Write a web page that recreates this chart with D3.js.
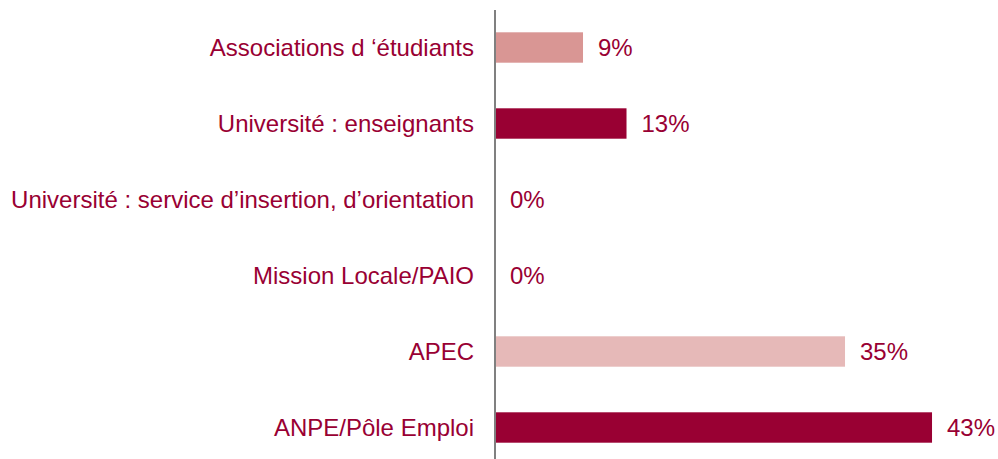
<!DOCTYPE html>
<html>
<head>
<meta charset="utf-8">
<script src="https://d3js.org/d3.v7.min.js"></script>
<style>
  body { margin: 0; background: #fff; }
  svg { display: block; }
</style>
</head>
<body>
<svg id="chart"></svg>
<script>
// Data
const categories = [
  "Associations d \u2018étudiants",
  "Université : enseignants",
  "Université : service d\u2019insertion, d\u2019orientation",
  "Mission Locale/PAIO",
  "APEC",
  "ANPE/Pôle Emploi"
];
const values = [8.7, 13, 0, 0, 34.6, 43.2];
const barColors = ["#D99694", "#990033", "#D99694", "#D99694", "#E6B9B8", "#990033"];

const width = 998;
const height = 459;
const axisX = 495;
const textColor = "#990033";

const svg = d3.select("#chart")
  .attr("width", width)
  .attr("height", height);

const x = d3.scaleLinear()
  .domain([0, 43])
  .range([axisX, axisX + 435]);

const y = d3.scaleBand()
  .domain(categories)
  .range([9.5, 465.5])
  .paddingInner(0.6)
  .paddingOuter(0.3);

// bars
svg.selectAll("rect.bar")
  .data(values)
  .enter().append("rect")
  .attr("class", "bar")
  .attr("x", x(0))
  .attr("y", (d, i) => y(categories[i]))
  .attr("width", d => x(d) - x(0))
  .attr("height", y.bandwidth())
  .attr("fill", (d, i) => barColors[i]);

// category labels
svg.selectAll("text.cat")
  .data(categories)
  .enter().append("text")
  .attr("class", "cat")
  .attr("x", axisX - 21)
  .attr("y", d => y(d) + y.bandwidth() / 2)
  .attr("dy", "0.36em")
  .attr("text-anchor", "end")
  .attr("fill", textColor)
  .style("font-family", "'Liberation Sans', Arial, sans-serif")
  .style("font-size", "24px")
  .text(d => d);

// value labels
svg.selectAll("text.val")
  .data(values)
  .enter().append("text")
  .attr("class", "val")
  .attr("x", d => x(d) + 15)
  .attr("y", (d, i) => y(categories[i]) + y.bandwidth() / 2)
  .attr("dy", "0.36em")
  .attr("fill", textColor)
  .style("font-family", "'Liberation Sans', Arial, sans-serif")
  .style("font-size", "24px")
  .text(d => Math.round(d) + "%");

// vertical axis line
svg.append("line")
  .attr("x1", axisX).attr("x2", axisX)
  .attr("y1", 10).attr("y2", height)
  .attr("stroke", "#808080")
  .attr("stroke-width", 2);
</script>
</body>
</html>
